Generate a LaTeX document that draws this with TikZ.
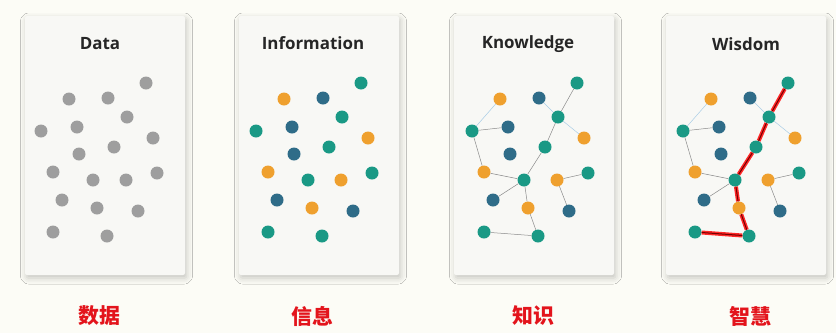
\documentclass[tikz,border=0pt]{standalone}
\usepackage{fontspec}
\usepackage{tikz}
\usetikzlibrary{shadows.blur}
\setmainfont{Open Sans}
\newfontfamily\cjk{Noto Sans CJK SC}

\definecolor{pagebg}{HTML}{FCFCF6}
\definecolor{cardbg}{HTML}{F8F8F5}
\definecolor{dotgrey}{HTML}{9E9E9E}
\definecolor{dotteal}{HTML}{1A9985}
\definecolor{dotblue}{HTML}{2F6C88}
\definecolor{dotorange}{HTML}{EFA02E}
\definecolor{linkgrey}{HTML}{8A8A8A}
\definecolor{linkblue}{HTML}{A9CDE6}
\definecolor{labelred}{HTML}{E3141C}

\begin{document}
\begin{tikzpicture}[x=1bp,y=-1bp,
    card/.style={fill=cardbg,rounded corners=2bp,
      blur shadow={shadow xshift=1.5bp,shadow yshift=-3bp,shadow blur radius=6bp,shadow opacity=22}},
    title/.style={font=\fontsize{17}{20}\selectfont\bfseries,text=black!85},
    hanzi/.style={font=\cjk\bfseries\fontsize{21}{24}\selectfont,text=labelred},
    greydot/.style={fill=dotgrey},
    tealdot/.style={fill=dotteal},
    bluedot/.style={fill=dotblue},
    orangedot/.style={fill=dotorange},
    faint/.style={draw=linkblue},
    redpath/.style={draw=red!85,double=red!45!black,double distance=1bp,line width=1.5bp}]

  \fill[pagebg] (0,0) rectangle (836,333);
  \useasboundingbox (0,0) rectangle (836,333);

  % cards
  \fill[card] (25,16) rectangle (185,275);
  \fill[card] (239,16) rectangle (399,275);
  \fill[card] (454,16) rectangle (614,275);
  \fill[card] (666,16) rectangle (826,275);

  \node[title] (t1) at (100,44) {Data};
  \node[title] (t2) at (313,43) {Information};
  \node[title] (t3) at (528,44) {Knowledge};
  \node[title] (t4) at (746,44) {Wisdom};

  \node[hanzi] (c1) at (99,316) {数据};
  \node[hanzi] (c2) at (312,316) {信息};
  \node[hanzi] (c3) at (533,316) {知识};
  \node[hanzi] (c4) at (750,316) {智慧};

  % Data
  \begin{scope}[every node/.style={circle,inner sep=0pt,minimum size=13bp,greydot}]
    \node (d1)  at (146,83)  {};
    \node (d2)  at (69,99)   {};
    \node (d3)  at (108,98)  {};
    \node (d4)  at (127,117) {};
    \node (d5)  at (41,131)  {};
    \node (d6)  at (77,127)  {};
    \node (d7)  at (153,138) {};
    \node (d8)  at (114,147) {};
    \node (d9)  at (79,154)  {};
    \node (d10) at (53,172)  {};
    \node (d11) at (93,180)  {};
    \node (d12) at (126,180) {};
    \node (d13) at (157,173) {};
    \node (d14) at (62,200)  {};
    \node (d15) at (97,208)  {};
    \node (d16) at (138,211) {};
    \node (d17) at (53,232)  {};
    \node (d18) at (107,236) {};
  \end{scope}

  % Information
  \begin{scope}[xshift=215bp,every node/.style={circle,inner sep=0pt,minimum size=13bp}]
    \node[tealdot]   (i1)  at (146,83)  {};
    \node[orangedot] (i2)  at (69,99)   {};
    \node[bluedot]   (i3)  at (108,98)  {};
    \node[tealdot]   (i4)  at (127,117) {};
    \node[tealdot]   (i5)  at (41,131)  {};
    \node[bluedot]   (i6)  at (77,127)  {};
    \node[orangedot] (i7)  at (153,138) {};
    \node[tealdot]   (i8)  at (114,147) {};
    \node[bluedot]   (i9)  at (79,154)  {};
    \node[orangedot] (i10) at (53,172)  {};
    \node[tealdot]   (i11) at (93,180)  {};
    \node[orangedot] (i12) at (126,180) {};
    \node[tealdot]   (i13) at (157,173) {};
    \node[bluedot]   (i14) at (62,200)  {};
    \node[orangedot] (i15) at (97,208)  {};
    \node[bluedot]   (i16) at (138,211) {};
    \node[tealdot]   (i17) at (53,232)  {};
    \node[tealdot]   (i18) at (107,236) {};
  \end{scope}

  % Knowledge
  \begin{scope}[xshift=431bp,every node/.style={circle,inner sep=0pt,minimum size=13bp}]
    \node[tealdot]   (k1)  at (146,83)  {};
    \node[orangedot] (k2)  at (69,99)   {};
    \node[bluedot]   (k3)  at (108,98)  {};
    \node[tealdot]   (k4)  at (127,117) {};
    \node[tealdot]   (k5)  at (41,131)  {};
    \node[bluedot]   (k6)  at (77,127)  {};
    \node[orangedot] (k7)  at (153,138) {};
    \node[tealdot]   (k8)  at (114,147) {};
    \node[bluedot]   (k9)  at (79,154)  {};
    \node[orangedot] (k10) at (53,172)  {};
    \node[tealdot]   (k11) at (93,180)  {};
    \node[orangedot] (k12) at (126,180) {};
    \node[tealdot]   (k13) at (157,173) {};
    \node[bluedot]   (k14) at (62,200)  {};
    \node[orangedot] (k15) at (97,208)  {};
    \node[bluedot]   (k16) at (138,211) {};
    \node[tealdot]   (k17) at (53,232)  {};
    \node[tealdot]   (k18) at (107,236) {};
  \end{scope}

  % Wisdom
  \begin{scope}[xshift=642bp,every node/.style={circle,inner sep=0pt,minimum size=13bp}]
    \node[tealdot]   (w1)  at (146,83)  {};
    \node[orangedot] (w2)  at (69,99)   {};
    \node[bluedot]   (w3)  at (108,98)  {};
    \node[tealdot]   (w4)  at (127,117) {};
    \node[tealdot]   (w5)  at (41,131)  {};
    \node[bluedot]   (w6)  at (77,127)  {};
    \node[orangedot] (w7)  at (153,138) {};
    \node[tealdot]   (w8)  at (114,147) {};
    \node[bluedot]   (w9)  at (79,154)  {};
    \node[orangedot] (w10) at (53,172)  {};
    \node[tealdot]   (w11) at (93,180)  {};
    \node[orangedot] (w12) at (126,180) {};
    \node[tealdot]   (w13) at (157,173) {};
    \node[bluedot]   (w14) at (62,200)  {};
    \node[orangedot] (w15) at (97,208)  {};
    \node[bluedot]   (w16) at (138,211) {};
    \node[tealdot]   (w17) at (53,232)  {};
    \node[tealdot]   (w18) at (107,236) {};
  \end{scope}

  \begin{scope}[every edge/.style={draw=linkgrey,line width=0.5bp}]
    \path (k2) edge[faint] (k5)  (k5) edge (k6)  (k5) edge (k10)
          (k1) edge (k4)  (k3) edge[faint] (k4)  (k4) edge[faint] (k7)
          (k4) edge (k8)  (k8) edge (k11)  (k10) edge (k11)
          (k11) edge (k14)  (k11) edge (k15)  (k15) edge (k18)
          (k17) edge (k18)  (k12) edge (k13)  (k12) edge (k16);

    \path (w2) edge[faint] (w5)  (w5) edge (w6)  (w5) edge (w10)
          (w3) edge[faint] (w4)  (w4) edge[faint] (w7)
          (w10) edge (w11)  (w11) edge (w14)
          (w12) edge (w13)  (w12) edge (w16);
  \end{scope}

  \begin{scope}[every edge/.style={redpath}]
    \path (w1) edge (w4)  (w4) edge (w8)  (w8) edge (w11)
          (w11) edge (w15)  (w15) edge (w18)  (w18) edge (w17);
  \end{scope}

\end{tikzpicture}
\end{document}
